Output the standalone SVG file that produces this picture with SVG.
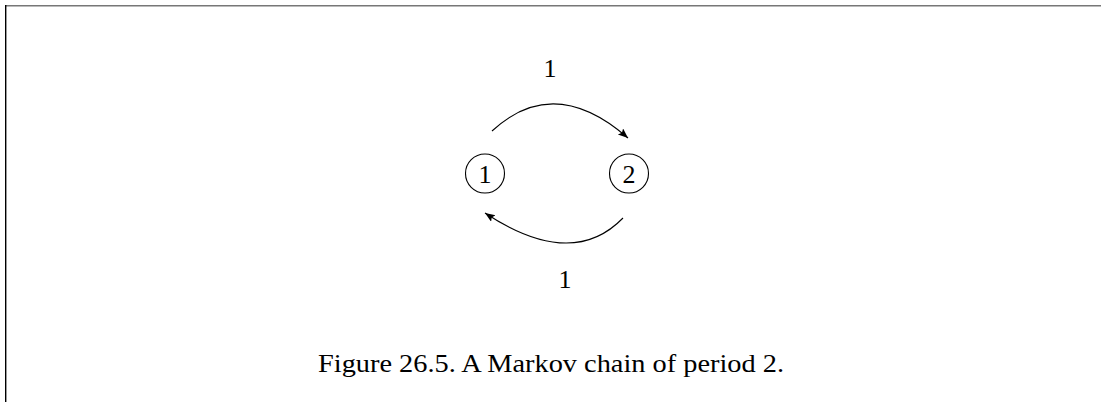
<svg xmlns="http://www.w3.org/2000/svg" width="1101" height="402" viewBox="0 0 1101 402">
<style>
.node{fill:none;stroke:#000;stroke-width:1.1}
.t{font-family:"Liberation Serif","Times New Roman",serif;font-size:26px;fill:#000;text-anchor:middle}
.edge{fill:none;stroke:#000;stroke-width:1.1}
</style>
<defs>
<marker id="arr" markerUnits="userSpaceOnUse" markerWidth="12" markerHeight="10" refX="10" refY="4" orient="auto">
<path d="M0,0 L10,4 L0,8 L2,4 Z" fill="#000"/>
</marker>
</defs>
<rect x="0" y="0" width="1101" height="402" fill="#fff"/>
<line x1="5" y1="5.8" x2="1101" y2="5.8" stroke="#777" stroke-width="1.4"/>
<line x1="5.7" y1="5" x2="5.7" y2="402" stroke="#000" stroke-width="1.4"/>
<g id="connectors">
<path class="edge" d="M492,131 Q554,73.5 628,138" marker-end="url(#arr)"/>
<path class="edge" d="M623,218 Q572,270.5 485,213" marker-end="url(#arr)"/>
<text class="t" x="550" y="77">1</text>
<text class="t" x="565" y="288">1</text>
</g>
<g id="node1">
<circle class="node" cx="485" cy="173.5" r="19.5"/>
<text class="t" x="485" y="182.5">1</text>
</g>
<g id="node2">
<circle class="node" cx="629" cy="173.5" r="19.5"/>
<text class="t" x="629" y="182.5">2</text>
</g>
<text class="t" x="551" y="372" font-size="25" textLength="466" lengthAdjust="spacingAndGlyphs">Figure 26.5.  A Markov chain of period 2.</text>
</svg>
